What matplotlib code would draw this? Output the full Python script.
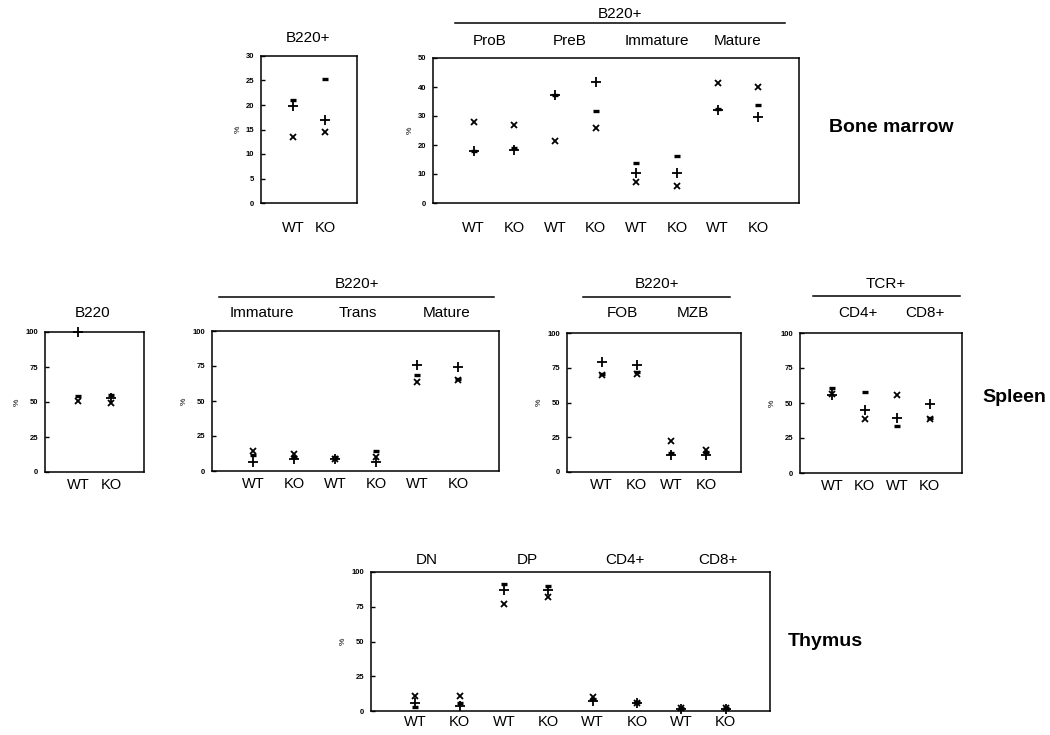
import matplotlib
matplotlib.use("Agg")
import matplotlib.pyplot as plt
import numpy as np
from matplotlib.lines import Line2D

plt.rcParams['font.family'] = ['Liberation Sans', 'DejaVu Sans']

# --- data ---
# bone marrow, B220+
bm_b220_labels = ["WT", "KO"]
bm_b220_plus = [19.7, 16.9]
bm_b220_cross = [13.5, 14.4]
bm_b220_dash = [21.0, 25.4]

# bone marrow, B220+ subsets
bm_sub_groups = ["ProB", "PreB", "Immature", "Mature"]
bm_sub_labels = ["WT", "KO"] * 4
bm_sub_plus = [17.8, 18.4, 37.1, 41.7, 10.2, 10.3, 32.0, 29.5]
bm_sub_cross = [27.8, 26.8, 21.5, 25.9, 7.1, 5.7, 41.4, 40.0]
bm_sub_dash = [18.0, 18.8, 37.4, 31.8, 13.9, 16.2, 32.3, 33.9]

# spleen, B220
sp_b220_labels = ["WT", "KO"]
sp_b220_plus = [100, 53]
sp_b220_cross = [50.5, 49.5]
sp_b220_dash = [54, 55]

# spleen, B220+ subsets
sp_sub_groups = ["Immature", "Trans", "Mature"]
sp_sub_labels = ["WT", "KO"] * 3
sp_sub_plus = [6.4, 8.3, 8.8, 6.4, 75.5, 74.3]
sp_sub_cross = [14.0, 12.4, 8.8, 10.0, 63.6, 64.8]
sp_sub_dash = [11.7, 10.0, 10.0, 14.0, 68.3, 66.0]

# spleen, FOB / MZB
sp_fm_groups = ["FOB", "MZB"]
sp_fm_labels = ["WT", "KO"] * 2
sp_fm_plus = [79.1, 76.7, 12.5, 12.5]
sp_fm_cross = [69.5, 70.7, 22.3, 16.1]
sp_fm_dash = [70.7, 72.0, 13.7, 14.4]

# spleen, TCR+
sp_tcr_groups = ["CD4+", "CD8+"]
sp_tcr_labels = ["WT", "KO"] * 2
sp_tcr_plus = [55.5, 45.2, 39.5, 49.5]
sp_tcr_cross = [56.7, 38.8, 55.5, 38.8]
sp_tcr_dash = [61.0, 57.9, 33.3, 39.3]

# thymus
th_groups = ["DN", "DP", "CD4+", "CD8+"]
th_labels = ["WT", "KO"] * 4
th_plus = [5.5, 3.8, 86.8, 87.3, 7.5, 6.0, 1.4, 1.7]
th_cross = [10.8, 10.8, 77.2, 82.0, 10.3, 6.0, 2.4, 1.9]
th_dash = [3.1, 5.5, 91.3, 90.1, 8.4, 6.7, 1.9, 2.2]

W, H = 1050, 735
fig = plt.figure(figsize=(W / 100, H / 100), dpi=100)


def add_box(l, t, r, b):
    return fig.add_axes([l / W, 1 - b / H, (r - l) / W, (b - t) / H])


def ftext(x, y, s, **kw):
    kw.setdefault("ha", "center")
    kw.setdefault("va", "center")
    kw.setdefault("fontsize", 11)
    fig.text(x / W, 1 - y / H, s, **kw)


def hline(x0, x1, y):
    fig.add_artist(Line2D([x0 / W, x1 / W], [1 - y / H, 1 - y / H],
                          color="k", lw=1.1))


def draw(ax, labels, plus, cross, dash, ymax, ystep, xpad):
    x = np.arange(1, len(labels) + 1)
    ax.plot(x, plus, ls="", marker="+", ms=6.5, mew=1.3, color="k", clip_on=False)
    ax.plot(x, cross, ls="", marker="x", ms=4.5, mew=1.3, color="k", clip_on=False)
    ax.plot(x, dash, ls="", marker="_", ms=4, mew=2.4, color="k", clip_on=False)
    ax.set_xlim(0, len(labels) + 1)
    ax.set_ylim(0, ymax)
    ax.set_yticks(np.arange(0, ymax + 1, ystep))
    ax.set_xticks(x)
    ax.set_xticklabels(labels, fontsize=10.5)
    ax.tick_params(axis="x", length=0, pad=xpad)
    ax.tick_params(axis="y", length=3, width=1, direction="in",
                   labelsize=5.5, pad=5)
    for lab in ax.get_yticklabels():
        lab.set_fontweight("bold")
    ax.set_ylabel("%", fontsize=6, labelpad=3)
    for sp in ax.spines.values():
        sp.set_linewidth(1.1)


# bone marrow row
ax = add_box(261, 56, 357, 203)
draw(ax, bm_b220_labels, bm_b220_plus, bm_b220_cross, bm_b220_dash, 30, 5, 13)
ftext(308, 38, "B220+")

ax = add_box(433, 58, 799, 203)
draw(ax, bm_sub_labels, bm_sub_plus, bm_sub_cross, bm_sub_dash, 50, 10, 13)
ftext(620, 14, "B220+")
hline(455, 785, 22.5)
for gx, g in zip([490, 570, 657, 738], bm_sub_groups):
    ftext(gx, 41, g)
ftext(829, 127, "Bone marrow", ha="left", fontsize=14, fontweight="bold")

# spleen row
ax = add_box(45, 332, 144, 472)
draw(ax, sp_b220_labels, sp_b220_plus, sp_b220_cross, sp_b220_dash, 100, 25, 4)
ftext(93, 313, "B220")

ax = add_box(212, 331, 499, 471)
draw(ax, sp_sub_labels, sp_sub_plus, sp_sub_cross, sp_sub_dash, 100, 25, 4)
ftext(357, 284, "B220+")
hline(219, 494, 297)
for gx, g in zip([262, 358, 447], sp_sub_groups):
    ftext(gx, 313, g)

ax = add_box(567, 333, 741, 472)
draw(ax, sp_fm_labels, sp_fm_plus, sp_fm_cross, sp_fm_dash, 100, 25, 4)
ftext(657, 284, "B220+")
hline(583, 730, 297)
for gx, g in zip([622, 693], sp_fm_groups):
    ftext(gx, 313, g)

ax = add_box(800, 333, 962, 473)
draw(ax, sp_tcr_labels, sp_tcr_plus, sp_tcr_cross, sp_tcr_dash, 100, 25, 4)
ftext(886, 284, "TCR+")
hline(813, 960, 296)
for gx, g in zip([858, 925], sp_tcr_groups):
    ftext(gx, 313, g)
ftext(1046, 398, "Spleen", ha="right", fontsize=14, fontweight="bold")

# thymus row
ax = add_box(371, 572, 770, 711)
draw(ax, th_labels, th_plus, th_cross, th_dash, 100, 25, 3)
for gx, g in zip([427, 527, 625, 718], th_groups):
    ftext(gx, 560, g)
ftext(788, 642, "Thymus", ha="left", fontsize=14, fontweight="bold")

fig.savefig("out.png", dpi=100, facecolor="white")
